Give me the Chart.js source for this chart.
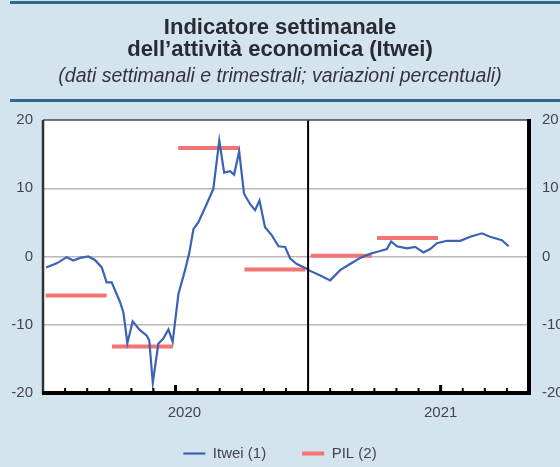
<!DOCTYPE html>
<html>
<head>
<meta charset="utf-8">
<script src="https://cdn.jsdelivr.net/npm/chart.js@4.4.0/dist/chart.umd.min.js"></script>
<style>
  html, body { margin: 0; padding: 0; background: #d4e4ee; }
  #wrap { width: 560px; height: 467px; position: relative; }
</style>
</head>
<body>
<div id="wrap"><canvas id="itweiChart"></canvas></div>
<script>
// Itwei, weekly values; x = months since January 2020
var itweiMonth = [0.14, 0.62, 1.07, 1.37, 1.68, 2.05, 2.35, 2.66, 2.88, 3.11, 3.49, 3.64, 3.82, 4.06, 4.39, 4.70, 4.81, 4.97, 5.22, 5.45, 5.68, 5.87,
  6.13, 6.43, 6.62, 6.81, 7.03, 7.41, 7.71, 7.98, 8.20, 8.47, 8.65, 8.88, 9.10, 9.37, 9.60, 9.80, 10.05, 10.36, 10.66, 10.96, 11.19, 11.49, 11.94,
  12.02, 12.55, 13.00, 13.45, 13.90, 14.36, 14.81, 15.26, 15.57, 15.76, 16.02, 16.47, 16.85, 17.22, 17.53, 17.83, 18.28, 18.89, 19.34, 19.87, 20.24, 20.77, 21.08];
var itweiValue = [-1.6, -1.0, -0.1, -0.6, -0.2, 0.0, -0.5, -1.6, -3.8, -3.8, -6.7, -8.2, -12.7, -9.5, -10.8, -11.6, -12.3, -18.5, -12.8, -12.0, -10.7, -12.5,
  -5.5, -2.0, 0.5, 4.0, 5.0, 7.7, 9.9, 17.0, 12.3, 12.5, 12.0, 15.4, 9.2, 7.7, 6.8, 8.2, 4.3, 3.1, 1.5, 1.4, -0.3, -1.1, -1.8,
  -2.0, -2.8, -3.5, -2.0, -1.1, -0.2, 0.4, 0.8, 1.1, 2.2, 1.5, 1.2, 1.4, 0.6, 1.1, 1.95, 2.3, 2.3, 2.9, 3.4, 2.9, 2.4, 1.5];

// PIL, quarterly changes
var pilQuarter = ['2020 T1', '2020 T2', '2020 T3', '2020 T4', '2021 T1', '2021 T2'];
var pilStartMonth = [0, 3, 6, 9, 12, 15];
var pilValue = [-5.7, -13.2, 15.9, -1.9, 0.1, 2.7];

var yearLabels = ['2020', '2021'];
var yearLabelAt = [6.4, 18];
var monthTicks = [1, 2, 3, 4, 5, 6, 7, 8, 9, 10, 11, 13, 14, 15, 16, 17, 18, 19, 20, 21];

var itweiPoints = itweiMonth.map(function (m, i) { return {x: m, y: itweiValue[i]}; });
var pilPoints = [];
pilStartMonth.forEach(function (s, i) {
  pilPoints.push({x: s + 0.12, y: pilValue[i]}, {x: s + 2.88, y: pilValue[i]}, {x: s + 3, y: null});
});

var fontFam = "'Liberation Sans', Arial, sans-serif";

// white plot area, rules, frame and month ticks
var framePlugin = {
  id: 'frame',
  beforeDraw: function (chart) {
    var ctx = chart.ctx, a = chart.chartArea;
    ctx.save();
    ctx.fillStyle = '#ffffff';
    ctx.fillRect(a.left, a.top, a.right - a.left, a.bottom - a.top);
    ctx.fillStyle = '#2c6a8c';
    ctx.fillRect(10, 1, 550, 3);
    ctx.fillRect(10, 99, 550, 3);
    ctx.restore();
  },
  afterDraw: function (chart) {
    var ctx = chart.ctx, a = chart.chartArea, x = chart.scales.x;
    ctx.save();
    ctx.strokeStyle = '#000';
    monthTicks.forEach(function (m) {
      var px = x.getPixelForValue(m);
      var big = (m === 6 || m === 18);
      ctx.lineWidth = big ? 3 : 2;
      ctx.beginPath();
      ctx.moveTo(px, a.bottom);
      ctx.lineTo(px, a.bottom - (big ? 8 : 5));
      ctx.stroke();
    });
    var xd = x.getPixelForValue(12);
    ctx.lineWidth = 2;
    ctx.beginPath(); ctx.moveTo(xd, a.top); ctx.lineTo(xd, a.bottom); ctx.stroke();

    ctx.strokeStyle = '#555';
    ctx.lineWidth = 1.5;
    ctx.beginPath(); ctx.moveTo(a.left, a.top); ctx.lineTo(a.right, a.top); ctx.stroke();
    ctx.strokeStyle = '#333';
    ctx.lineWidth = 2.5;
    ctx.beginPath(); ctx.moveTo(a.left, a.top); ctx.lineTo(a.left, a.bottom); ctx.stroke();
    ctx.strokeStyle = '#000';
    ctx.lineWidth = 4;
    ctx.beginPath(); ctx.moveTo(a.left - 1, a.bottom); ctx.lineTo(a.right + 2, a.bottom); ctx.stroke();
    ctx.beginPath(); ctx.moveTo(a.right, a.top - 1); ctx.lineTo(a.right, a.bottom); ctx.stroke();
    ctx.restore();
  }
};

var ctx = document.getElementById('itweiChart').getContext('2d');
var itweiChart = new Chart(ctx, {
  type: 'line',
  data: {
    datasets: [{
      label: 'Itwei (1)',
      data: itweiPoints,
      borderColor: '#3a63b3',
      borderWidth: 2.2,
      pointRadius: 0,
      tension: 0
    }, {
      label: 'PIL (2)',
      data: pilPoints,
      borderColor: '#f47474',
      borderWidth: 4,
      pointRadius: 0,
      spanGaps: false
    }]
  },
  options: {
    responsive: true,
    maintainAspectRatio: false,
    animation: false,
    layout: { padding: 0 },
    scales: {
      x: {
        type: 'linear',
        min: 0,
        max: 22,
        afterBuildTicks: function (axis) {
          axis.ticks = yearLabelAt.map(function (v) { return {value: v}; });
        },
        afterFit: function (s) { s.height = 17; },
        grid: { display: false, drawTicks: false },
        border: { display: false },
        ticks: {
          autoSkip: false,
          maxRotation: 0,
          mirror: true,
          padding: -29,
          color: '#444450',
          font: { family: fontFam, size: 15 },
          callback: function (v, i) { return yearLabels[i]; }
        }
      },
      y: {
        min: -20,
        max: 20,
        afterFit: function (s) { s.width = 43; },
        grid: { color: '#b8b8b8', lineWidth: 1.5, drawTicks: false },
        border: { display: false },
        ticks: { stepSize: 10, padding: 10, color: '#444450', font: { family: fontFam, size: 15 } }
      },
      y2: {
        position: 'right',
        min: -20,
        max: 20,
        afterFit: function (s) { s.width = 31; },
        grid: { display: false, drawTicks: false },
        border: { display: false },
        ticks: { stepSize: 10, padding: 13, color: '#444450', font: { family: fontFam, size: 15 } }
      }
    },
    plugins: {
      title: {
        display: true,
        text: ['Indicatore settimanale', 'dell\u2019attività economica (Itwei)'],
        color: '#2a2a33',
        font: { family: fontFam, size: 22, weight: 'bold', lineHeight: 1.0 },
        padding: { top: 17, bottom: 6 }
      },
      subtitle: {
        display: true,
        text: '(dati settimanali e trimestrali; variazioni percentuali)',
        color: '#333340',
        font: { family: fontFam, size: 19.5, style: 'italic', lineHeight: 1.0 },
        padding: { top: 0, bottom: 33.5 }
      },
      legend: {
        position: 'bottom',
        maxHeight: 57,
        labels: {
          usePointStyle: true,
          pointStyle: 'line',
          pointStyleWidth: 22,
          padding: 36,
          color: '#444450',
          font: { family: fontFam, size: 15 }
        }
      },
      tooltip: { enabled: false }
    }
  },
  plugins: [framePlugin]
});
</script>
</body>
</html>
